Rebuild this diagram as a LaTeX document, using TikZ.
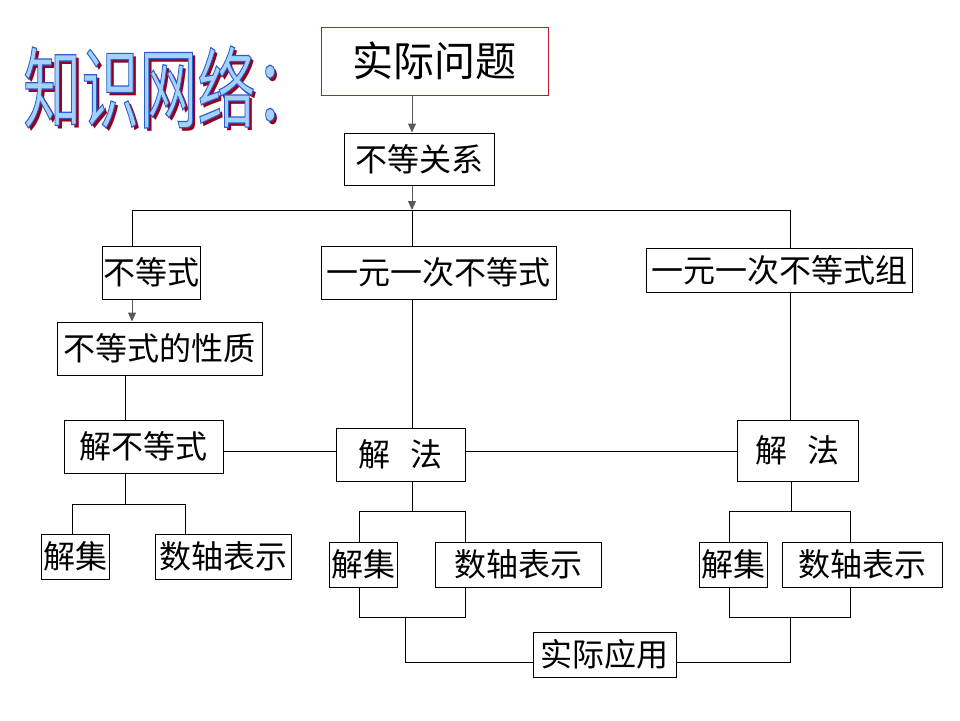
\documentclass[tikz,border=0pt]{standalone}
\usepackage{fontspec}
\newfontfamily\cjk{Noto Sans CJK SC}
\usetikzlibrary{arrows.meta,positioning}

\definecolor{wordfill}{RGB}{165,210,252}
\definecolor{wordshade}{RGB}{150,0,30}
\definecolor{frame}{RGB}{205,20,45}

% outlined lettering: fill, then stroke in blue
\newcommand{\outlined}[1]{\special{pdf:literal direct 1.2 w 0.16 0.37 0.8 RG 2 Tr}#1\special{pdf:literal direct 0 Tr}}

\begin{document}
\begin{tikzpicture}[
  x=1pt, y=-1pt,
  font=\cjk,
  box/.style={draw, line width=1pt, inner sep=0pt, minimum height=53pt, font=\cjk\fontsize{32}{32}\selectfont},
  small/.style={box, minimum height=45pt},
  title/.style={anchor=west, inner sep=0pt, font=\cjk\fontsize{88}{88}\selectfont},
  link/.style={line width=1pt},
  arrow/.style={-{Triangle[length=9pt,width=8pt]}, line width=1pt, draw=black!65}
]
\useasboundingbox (0,0) rectangle (960,720);

% heading: shadow below, outlined letters on top
\node[title, text=wordshade] (head-shade) at (26,90) {\scalebox{0.66}[1]{知识网络：}};
\node[title, text=wordfill] (head) at (23,87) {\outlined{\scalebox{0.66}[1]{知识网络：}}};

% column and row guides
\coordinate (trunk) at (412,210);
\coordinate (trunkL) at (132,210);
\coordinate (trunkR) at (790,210);
\coordinate (middle) at (0,451);
\coordinate (appRow) at (0,662);
\coordinate (forkL) at (125,504);
\coordinate (forkLa) at (72,504);
\coordinate (forkLb) at (185,504);
\coordinate (forkA) at (412,511);
\coordinate (forkAa) at (359,511);
\coordinate (forkAb) at (465,511);
\coordinate (forkB) at (791,511);
\coordinate (forkBa) at (729,511);
\coordinate (forkBb) at (850,511);
\coordinate (joinA) at (405,617);
\coordinate (joinAa) at (359,617);
\coordinate (joinAb) at (465,617);
\coordinate (joinB) at (790,617);
\coordinate (joinBa) at (729,617);
\coordinate (joinBb) at (850,617);

% boxes
\node[box, draw=frame, minimum width=227pt, minimum height=68pt, font=\cjk\fontsize{41}{41}\selectfont] (problem) at (434.5,61) {实际问题};
\node[box, minimum width=150pt, minimum height=52pt] (relation) at (419,159) {不等关系};
\node[box, minimum width=98pt] (ineq) at (151,272.5) {不等式};
\node[box, minimum width=235pt] (linear) at (438.5,272.5) {一元一次不等式};
\node[box, minimum width=266pt, minimum height=44pt] (system) at (779,270) {一元一次不等式组};
\node[box, minimum width=205pt] (props) at (159.5,348.5) {不等式的性质};
\node[box, minimum width=159pt] (solve) at (143.5,446.5) {解不等式};
\node[box, minimum width=129pt] (methodA) at (400.5,454.5) {解\hspace{.6em}法};
\node[box, minimum width=121pt, minimum height=61pt] (methodB) at (797.5,450.5) {解\hspace{.6em}法};
\node[small, minimum width=68pt] (setL) at (75.5,556.5) {解集};
\node[small, minimum width=136pt] (axisL) at (223,556.5) {数轴表示};
\node[small, minimum width=68pt] (setA) at (363,564.5) {解集};
\node[small, minimum width=166pt] (axisA) at (518,564.5) {数轴表示};
\node[small, minimum width=68pt] (setB) at (733,564.5) {解集};
\node[small, minimum width=160pt] (axisB) at (862,564.5) {数轴表示};
\node[small, minimum width=143pt] (apply) at (604.5,654.5) {实际应用};

% top of the tree
\draw[arrow] (problem.south -| trunk) -- (relation.north -| trunk);
\draw[arrow] (relation.south -| trunk) -- (trunk);
\draw[link] (ineq.north -| trunkL) |- (trunkR) -- (system.north -| trunkR);
\draw[link] (trunk) -- (linear.north -| trunk);
\draw[arrow] (ineq.south -| trunkL) -- (props.north -| trunkL);
\draw[link] (props.south -| forkL) -- (solve.north -| forkL);

% solving row
\draw[link] (solve.east |- middle) -- (methodA.west |- middle);
\draw[link] (methodA.east |- middle) -- (methodB.west |- middle);
\draw[link] (linear.south -| trunk) -- (methodA.north -| trunk);
\draw[link] (system.south -| trunkR) -- (methodB.north -| trunkR);

% forks down to the answers
\draw[link] (solve.south -| forkL) -- (forkL);
\draw[link] (setL.north -| forkLa) |- (forkLb) -- (axisL.north -| forkLb);
\draw[link] (methodA.south -| forkA) -- (forkA);
\draw[link] (setA.north -| forkAa) |- (forkAb) -- (axisA.north -| forkAb);
\draw[link] (methodB.south -| forkB) -- (forkB);
\draw[link] (setB.north -| forkBa) |- (forkBb) -- (axisB.north -| forkBb);

% joins into the application box
\draw[link] (setA.south -| joinAa) |- (joinAb) -- (axisA.south -| joinAb);
\draw[link] (joinA) |- (apply.west |- appRow);
\draw[link] (setB.south -| joinBa) |- (joinBb) -- (axisB.south -| joinBb);
\draw[link] (joinB) |- (apply.east |- appRow);

\end{tikzpicture}
\end{document}
